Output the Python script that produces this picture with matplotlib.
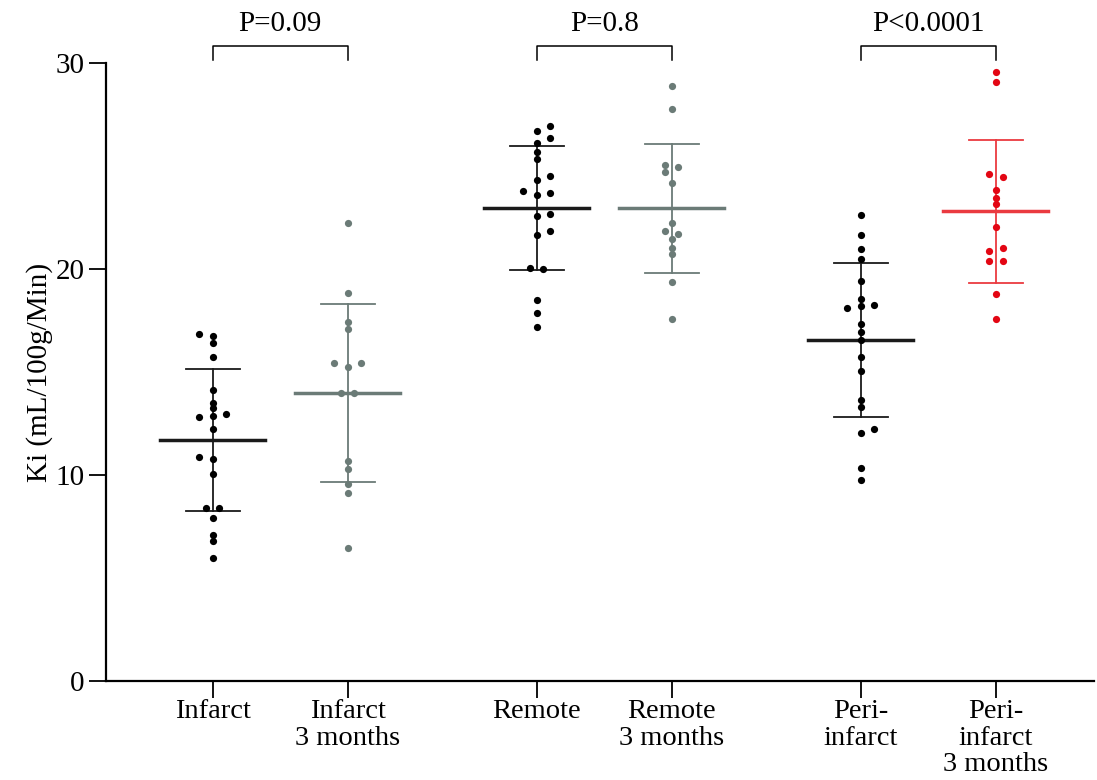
"""Ki scatter dot plot, mean +/- SD per region."""

import matplotlib
matplotlib.use("Agg")
import matplotlib.pyplot as plt
import numpy as np

plt.rcParams["font.family"] = ["Liberation Serif", "DejaVu Serif"]

labels = ["Infarct", "Infarct\n3 months", "Remote", "Remote\n3 months",
          "Peri-\ninfarct", "Peri-\ninfarct\n3 months"]

infarct = [16.84, 16.75, 16.42, 15.74, 14.13, 13.48, 13.24, 12.88, 12.80, 12.98,
           12.25, 10.87, 10.78, 10.03, 8.38, 8.38, 7.93, 7.09, 6.81, 5.99]
infarct_side = [-1, 0, 0, 0, 0, 0, 0, 0, -1, 1, 0, -1, 0, 0, -0.5, 0.5, 0, 0, 0, 0]

infarct_3m = [22.22, 18.85, 17.41, 17.07, 15.44, 15.44, 15.26, 14.00, 14.00,
              10.68, 10.28, 9.55, 9.11, 6.46]
infarct_3m_side = [0, 0, 0, 0, -1, 1, 0, -0.5, 0.5, 0, 0, 0, 0, 0]

remote = [26.96, 26.72, 26.36, 26.12, 25.70, 25.34, 24.50, 24.34, 23.77, 23.69,
          23.61, 22.66, 22.56, 21.83, 21.67, 20.03, 20.00, 18.50, 17.88, 17.17]
remote_side = [1, 0, 1, 0, 0, 0, 1, 0, -1, 1, 0, 1, 0, 1, 0, -0.5, 0.5, 0, 0, 0]

remote_3m = [28.90, 27.78, 25.05, 24.95, 24.72, 24.17, 22.22, 21.86, 21.71,
             21.44, 21.02, 20.73, 19.35, 17.56]
remote_3m_side = [0, 0, -0.5, 0.5, -0.5, 0, 0, -0.5, 0.5, 0, 0, 0, 0, 0]

peri = [22.61, 21.68, 20.99, 20.47, 19.40, 18.53, 18.20, 18.12, 18.25, 17.33,
        16.96, 16.57, 15.71, 15.05, 13.64, 13.32, 12.05, 12.23, 10.35, 9.77]
peri_side = [0, 0, 0, 0, 0, 0, 0, -1, 1, 0, 0, 0, 0, 0, 0, 0, 0, 1, 0, 0]

peri_3m = [29.58, 29.11, 24.64, 24.48, 23.82, 23.43, 23.17, 22.04, 21.02,
           20.86, 20.40, 20.40, 18.77, 17.56]
peri_3m_side = [0, 0, -0.5, 0.5, 0, 0, 0, 0, 0.5, -0.5, -0.5, 0.5, 0, 0]

p_labels = ["P=0.09", "P=0.8", "P<0.0001"]

groups = [infarct, infarct_3m, remote, remote_3m, peri, peri_3m]
sides = [infarct_side, infarct_3m_side, remote_side, remote_3m_side,
         peri_side, peri_3m_side]

GRAY = "#6b7b77"
RED = "#e30613"
colors = ["black", GRAY, "black", GRAY, "black", RED]
bar_colors = ["#1a1a1a", GRAY, "#1a1a1a", GRAY, "#1a1a1a", "#ea3a40"]
xpos = [0, 1, 2.4, 3.4, 4.8, 5.8]

fig = plt.figure(figsize=(10.97, 7.80), dpi=100)
ax = fig.add_axes([0.0966, 0.127, 0.901, 0.792])

for x, vals, side, c, bc in zip(xpos, groups, sides, colors, bar_colors):
    vals = np.asarray(vals)
    m = vals.mean()
    sd = vals.std(ddof=1)
    ax.plot([x - 0.39, x + 0.39], [m, m], color=bc, lw=2.5, zorder=2)
    ax.plot([x, x], [m - sd, m + sd], color=bc, lw=1.3, zorder=2)
    for yv in (m - sd, m + sd):
        ax.plot([x - 0.2, x + 0.2], [yv, yv], color=bc, lw=1.3, zorder=2)
    ax.plot(x + 0.1 * np.asarray(side), vals, "o", color=c, ms=5.2,
            mec="none", zorder=3)

# significance brackets above the axes
for i, txt in enumerate(p_labels):
    x0, x1 = xpos[2 * i], xpos[2 * i + 1]
    ax.plot([x0, x0, x1, x1], [30.15, 30.85, 30.85, 30.15], color="black",
            lw=1.1, clip_on=False)
    ax.text((x0 + x1) / 2, 31.55, txt, ha="center", va="baseline", fontsize=21)

ax.set_xlim(-0.79, 6.53)
ax.set_ylim(0, 30)
ax.set_yticks([0, 10, 20, 30])
ax.set_xticks(xpos)
ax.set_xticklabels(labels, fontsize=20.5, linespacing=1.08)
ax.tick_params(axis="y", labelsize=21, length=12, width=1.3)
ax.tick_params(axis="x", length=12, width=1.3, pad=1)
ax.set_ylabel("Ki (mL/100g/Min)", fontsize=21, labelpad=2)
ax.spines[["top", "right"]].set_visible(False)
ax.spines[["left", "bottom"]].set_linewidth(1.6)

fig.savefig("out.png", dpi=100)
plt.close(fig)
